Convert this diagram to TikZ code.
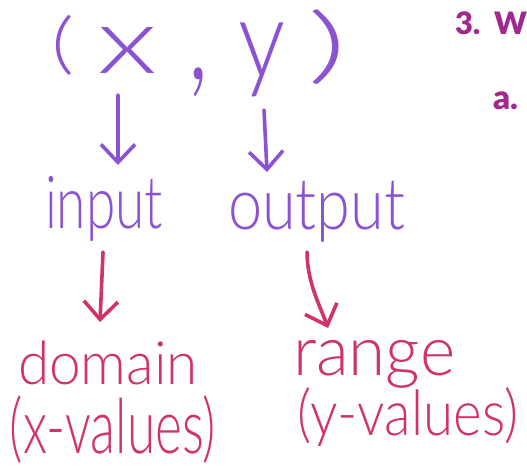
\documentclass[tikz,border=0pt]{standalone}
\usepackage{fontspec}
\usepackage{graphicx}
\setmainfont{Lato}[UprightFont=* Light, BoldFont=* Bold]
\newfontfamily\headfont{Lato}[UprightFont=* Black]
\usetikzlibrary{arrows.meta}
\definecolor{penpurple}{HTML}{8B52D1}
\definecolor{penred}{HTML}{D0336B}
\definecolor{headmagenta}{HTML}{A3288E}
% scale a piece of handwriting to a given width and total height (in pt)
\newcommand\handfit[3]{\resizebox*{#1pt}{#2pt}{#3}}
\tikzset{
  hand/.style={inner sep=0pt, outer sep=0pt, anchor=north west},
  purpletext/.style={hand, text=penpurple},
  redtext/.style={hand, text=penred},
  penarrow/.style={line width=3.6pt, line cap=round, line join=round,
    -{Straight Barb[length=18pt, width=34pt, line width=3.6pt]}},
  parrow/.style={penarrow, draw=penpurple},
  rarrow/.style={penarrow, draw=penred},
  heading/.style={inner sep=0pt, outer sep=0pt, anchor=north west,
    text=headmagenta, font=\headfont}
}
\begin{document}
\begin{tikzpicture}[x=1pt, y=-1pt]
\useasboundingbox (0,0) rectangle (527,467);

% the ordered pair
\node[purpletext] (lp)    at (52,15)  {\handfit{23}{60}{(}};
\node[purpletext] (xv)    at (97,27)  {\handfit{60}{46}{x}};
\node[purpletext] (comma) at (187,68) {\handfit{22}{29}{,}};
\node[purpletext] (yv)    at (238,23) {\handfit{47}{74}{y}};
\node[purpletext] (rp)    at (307,10) {\handfit{40}{75}{)}};

% input / output
\node[purpletext] (inp)  at (45,176)  {\handfit{118}{65}{input}};
\node[purpletext] (outp) at (228,181) {\handfit{177}{61}{output}};

% domain / range
\node[redtext] (dom)   at (18,341)  {\handfit{180}{44}{domain}};
\node[redtext] (xvals) at (10,396)  {\handfit{206}{68}{(x-values)}};
\node[redtext] (rng)   at (293,340) {\handfit{162}{48}{range}};
\node[redtext] (yvals) at (297,388) {\handfit{221}{59}{(y-values)}};

% arrows
\draw[parrow] ([shift={(-9,22)}]xv.south) -- ([shift={(14,-11)}]inp.north);
\draw[parrow] ([shift={(2.5,13)}]yv.south) -- ([shift={(-49.5,-9)}]outp.north);
\draw[rarrow] ([shift={(-1,11)}]inp.south) -- ([shift={(-8,-19)}]dom.north);
\draw[rarrow] ([shift={(-9.5,10)}]outp.south)
  .. controls +(0,30) and +(-8,-22) .. ([shift={(-46,-12)}]rng.north);

% numbered list at the edge
\node[heading] (q3) at (455,12) {\handfit{72}{23}{3.\hspace{0.45em}W}};
\node[heading] (qa) at (493,92) {\handfit{25}{18}{a.}};
\end{tikzpicture}
\end{document}
